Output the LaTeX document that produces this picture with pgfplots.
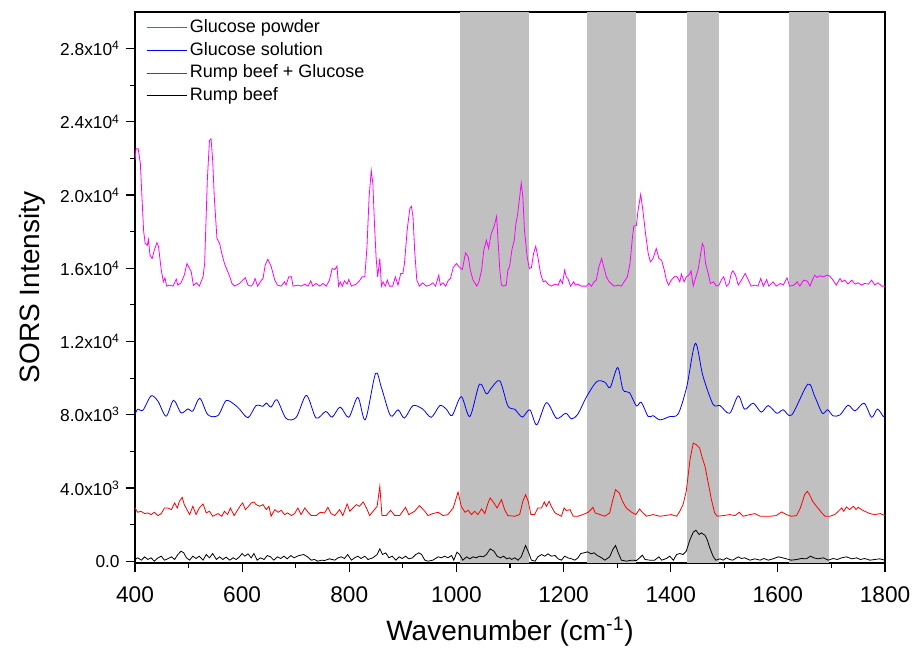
\documentclass[border=0pt]{standalone}
\usepackage{fontspec}
\setmainfont{Liberation Sans}
\usepackage{pgfplots}
\pgfplotsset{compat=1.18}
\definecolor{bandgray}{HTML}{C0C0C0}
\definecolor{mag}{HTML}{FF00FF}
\pgfplotsset{
  legend image code/.code={\draw[#1] (0pt,0pt) -- (30pt,0pt);},
  spec/.style={line width=0.6pt},
}
\begin{document}
\begin{tikzpicture}
\begin{axis}[
  scale only axis,
  width=562.5pt, height=413.25pt,
  xmin=400, xmax=1800, ymin=-100, ymax=30000,
  scaled y ticks=false, scaled x ticks=false,
  xtick={400,600,...,1800},
  minor x tick num=1,
  ytick={0,4000,8000,12000,16000,20000,24000,28000},
  yticklabels={0.0,{4.0x10\textsuperscript{3}},{8.0x10\textsuperscript{3}},{1.2x10\textsuperscript{4}},{1.6x10\textsuperscript{4}},{2.0x10\textsuperscript{4}},{2.4x10\textsuperscript{4}},{2.8x10\textsuperscript{4}}},
  minor y tick num=1,
  tick pos=left,
  tick align=outside,
  major tick length=7pt,
  minor tick length=3.75pt,
  every tick/.style={black, line width=0.9pt},
  axis line style={line width=1.1pt},
  /pgf/number format/assume math mode=true,
  /pgf/number format/1000 sep={},
  xticklabel style={font=\fontsize{17}{20}\selectfont, yshift=-7pt},
  yticklabel style={font=\fontsize{13}{16}\selectfont, xshift=-1pt},
  xlabel={Wavenumber (cm\textsuperscript{-1})},
  ylabel={SORS Intensity},
  xlabel style={font=\fontsize{21}{25}\selectfont, at={(axis description cs:0.5,-0.125)}, anchor=center},
  ylabel style={font=\fontsize{21}{25}\selectfont, at={(axis description cs:-0.137,0.5)}, anchor=center},
  legend style={at={(axis description cs:0.013,0.995)}, anchor=north west, draw=none, fill=none,
    font=\fontsize{13.5}{16.9}\selectfont, row sep=0pt, inner sep=1pt,
    nodes={text height=10pt, text depth=3pt}},
  legend cell align=left,
  clip=true,
]
% shaded bands
\addplot[draw=none, fill=bandgray, forget plot] coordinates {(1007,-100) (1135,-100) (1135,30000) (1007,30000)};
\addplot[draw=none, fill=bandgray, forget plot] coordinates {(1243,-100) (1336,-100) (1336,30000) (1243,30000)};
\addplot[draw=none, fill=bandgray, forget plot] coordinates {(1430,-100) (1491,-100) (1491,30000) (1430,30000)};
\addplot[draw=none, fill=bandgray, forget plot] coordinates {(1621,-100) (1695,-100) (1695,30000) (1621,30000)};

% Glucose powder
\addplot[mag, spec] table {
x y
400 21890
402 22529
406 22529
410 21711
413 19894
416 18077
419 17350
423 17259
425 17568
428 16714
432 16533
436 16987
441 17405
444 17169
449 15897
453 15261
456 15479
459 15024
464 15079
471 15024
477 15406
480 15079
486 15206
492 15624
497 16260
502 15987
505 15806
509 15061
515 15206
520 15024
527 15533
530 16260
535 20803
539 22983
542 23074
545 21893
548 19894
553 17623
558 17350
562 16805
567 16260
572 15897
577 15533
581 15170
586 15024
595 15170
601 15352
606 15479
611 15079
617 15024
621 15170
624 15442
629 15024
636 15352
639 15442
643 16169
648 16496
654 16115
661 15352
666 15079
673 15024
679 15261
682 15079
687 15533
692 15533
695 15024
704 15079
710 15024
717 15134
723 15024
728 15315
732 15024
738 15170
745 15024
751 15170
757 15024
763 15352
768 15987
773 15933
777 16115
780 15024
783 15261
787 15024
791 15315
796 15134
799 15388
804 15024
813 15134
819 15315
824 15533
829 15533
833 17169
837 19894
841 21348
844 20621
847 18441
850 16623
853 15533
857 16533
860 15024
863 15261
867 15024
871 15352
875 15024
881 15024
886 15533
891 15079
896 15715
900 15715
903 16260
908 18077
913 19258
916 19385
919 18804
922 16987
926 15352
931 15024
937 15206
944 15024
950 15079
956 15206
961 15024
967 15624
970 15079
975 15206
980 15024
985 15352
989 15442
994 16042
1000 16260
1005 16078
1011 15933
1017 16841
1022 16623
1026 15897
1031 15352
1035 15170
1038 15024
1042 15261
1047 15897
1051 16987
1056 17532
1060 17078
1065 17895
1070 18259
1075 18840
1078 17350
1081 15897
1084 15079
1088 15024
1093 15079
1096 15897
1099 16078
1104 17078
1108 17532
1111 18441
1114 18895
1118 19894
1121 20657
1124 19894
1127 18077
1132 16623
1136 15987
1140 16042
1144 16805
1148 17205
1152 16623
1157 15715
1162 15261
1166 15315
1171 15134
1177 15024
1184 15134
1190 15079
1194 15388
1198 15170
1202 15897
1205 15533
1208 15442
1213 15024
1219 15261
1222 15079
1227 15134
1233 15024
1243 15024
1247 15170
1252 15024
1257 15261
1261 15352
1266 16078
1271 16533
1275 16078
1280 15533
1285 15261
1289 15170
1294 15024
1302 15079
1308 15024
1313 15261
1319 15533
1324 16260
1328 17532
1331 18295
1336 18350
1339 19167
1344 20039
1348 19167
1353 17895
1358 16805
1362 16351
1367 16533
1373 17078
1378 16533
1383 16442
1388 15897
1392 15352
1396 15079
1401 15352
1408 15570
1412 15533
1417 15261
1420 15679
1425 15261
1429 15533
1434 15624
1438 15860
1442 15025
1447 15534
1451 15898
1455 16624
1459 17351
1462 17170
1465 16261
1470 15716
1474 15171
1480 15262
1485 15025
1490 15080
1495 15389
1499 15534
1504 15025
1509 15171
1513 15716
1516 15861
1521 15625
1526 15080
1532 15353
1539 15716
1545 15353
1550 15025
1557 15080
1563 15025
1568 15443
1573 15025
1579 15389
1583 15025
1591 15262
1597 15025
1605 15171
1610 15080
1617 15480
1622 15025
1630 15080
1636 15262
1641 15025
1648 15353
1655 15298
1660 15025
1665 15389
1669 15625
1673 15498
1678 15589
1685 15534
1692 15625
1697 15571
1703 15353
1709 15080
1716 15443
1720 15262
1725 15353
1731 15134
1738 15353
1744 15134
1750 15207
1756 15080
1762 15171
1769 15134
1775 15353
1781 15080
1787 15207
1794 15025
1800 15025
};
\addlegendentry{Glucose powder}

% Glucose solution
\addplot[blue, spec, smooth, tension=0.5] table {
x y
400 8000
405 8300
415 8250
430 9030
443 8730
458 7920
472 8790
486 8100
499 8320
508 8200
521 8900
536 8000
555 7960
570 8770
586 8550
595 8310
611 7840
626 8500
639 8460
645 8640
654 8420
665 8820
682 7800
701 7860
720 9060
738 7820
756 8180
768 7870
783 8420
799 7860
816 8950
830 7730
849 10250
860 9480
877 7940
891 8270
903 7820
919 8500
937 8310
953 7860
969 8500
981 8310
992 7960
1009 8990
1025 7900
1043 9670
1056 9140
1065 9450
1081 9850
1096 8480
1109 8300
1123 7870
1137 8270
1150 7450
1168 8660
1187 7800
1204 8080
1215 7770
1227 8050
1243 8990
1262 9810
1277 9780
1287 9490
1301 10580
1311 9360
1323 9210
1336 8480
1345 8680
1358 7900
1367 7950
1380 7720
1398 7900
1414 8050
1430 9540
1446 11900
1460 10130
1479 8570
1492 8500
1510 8080
1526 9030
1538 8300
1554 8630
1569 8140
1582 8500
1598 8080
1610 8270
1626 7990
1656 9670
1669 8990
1683 8080
1693 8270
1703 7940
1716 7990
1731 8520
1744 8210
1761 8630
1775 7860
1786 8310
1797 7900
1800 8000
};
\addlegendentry{Glucose solution}

% Rump beef + Glucose
\addplot[red, spec] table {
x y
400 2908
405 2672
411 2727
418 2599
424 2636
430 2545
436 2672
443 2490
449 2599
455 2908
461 2908
468 2817
474 3181
479 2908
483 3272
488 3490
492 3090
497 2817
502 2545
508 2999
514 2545
520 2908
527 3126
533 2636
539 2727
545 2454
555 2599
562 2454
567 2727
573 2545
578 2908
585 2490
592 2817
598 3090
601 3181
606 2817
612 2999
617 3181
622 3235
626 3090
633 2999
639 3090
645 2817
650 2999
654 2454
661 2817
667 2672
673 2781
679 2545
685 2636
692 2490
698 2599
704 2908
710 2545
717 2908
723 2672
729 2490
738 2490
746 2672
754 2636
760 2945
766 2599
773 2490
782 2817
788 2490
796 3126
801 2727
807 2908
813 3090
819 2999
826 3235
832 2908
838 2490
847 2817
852 2999
857 4089
861 2490
869 2490
877 2781
885 2490
894 2490
905 2945
911 2545
922 2727
931 3035
941 2727
947 2490
956 2599
966 2672
975 2490
984 2545
994 2908
1003 3780
1009 2999
1016 2672
1022 2781
1028 2545
1034 2727
1040 2545
1047 2854
1053 2599
1059 3181
1063 3453
1070 3181
1076 2908
1084 3362
1090 2817
1096 2490
1109 2454
1118 2545
1124 3272
1129 3635
1134 3272
1139 2545
1146 2545
1152 2908
1159 2908
1164 3235
1168 2999
1173 3272
1177 2999
1184 2636
1190 2545
1196 2454
1201 2908
1205 2763
1212 2817
1218 2454
1227 2454
1236 2545
1246 2672
1251 2817
1255 2945
1259 2636
1268 2545
1277 2454
1286 2636
1292 3362
1297 3908
1304 3726
1310 3272
1317 2908
1327 2672
1335 2545
1342 2854
1347 2672
1355 2454
1367 2545
1380 2454
1389 2490
1401 2545
1411 2454
1417 2727
1423 3090
1429 3817
1436 5543
1442 6451
1448 6360
1454 6179
1459 5634
1464 5180
1470 4271
1476 3362
1482 2636
1487 2454
1498 2490
1510 2545
1520 2490
1528 2672
1535 2454
1548 2545
1557 2599
1567 2454
1585 2454
1597 2490
1607 2690
1616 2545
1625 2454
1635 2490
1642 2908
1650 3635
1655 3817
1659 3635
1665 3272
1672 2999
1682 2636
1688 2454
1697 2454
1706 2545
1713 2727
1719 2908
1723 2727
1728 2963
1734 2817
1741 2999
1746 2817
1750 2945
1756 2817
1762 2727
1772 2599
1781 2545
1791 2599
1800 2490
};
\addlegendentry{Rump beef + Glucose}

% Rump beef
\addplot[black, spec] table {
x y
400 92
405 183
412 55
418 237
424 92
430 183
436 0
443 183
449 273
455 55
461 128
468 237
474 92
480 364
486 546
491 455
496 183
502 55
508 273
514 146
520 273
527 55
533 364
539 183
545 419
552 92
558 237
564 92
570 219
577 55
583 183
589 92
595 237
600 419
605 273
611 401
617 183
622 419
628 55
634 183
641 92
647 310
653 237
659 55
666 237
672 146
678 273
684 128
691 310
697 183
703 273
709 328
715 364
722 237
729 55
735 92
741 0
748 55
754 37
763 128
773 55
779 183
785 237
791 146
797 364
804 55
810 183
816 273
822 146
829 273
835 92
844 183
852 364
857 673
862 364
868 455
874 183
880 273
887 55
893 237
899 146
905 273
911 128
918 183
924 364
930 455
935 364
941 55
947 0
956 55
966 237
972 183
978 273
984 183
991 310
995 55
1001 492
1006 364
1012 55
1019 237
1025 128
1031 237
1037 183
1043 273
1050 237
1056 364
1063 673
1070 546
1076 273
1082 183
1088 273
1094 128
1099 183
1103 92
1109 183
1115 55
1121 237
1129 855
1135 455
1140 55
1147 0
1152 237
1159 364
1165 273
1171 401
1177 273
1184 310
1190 128
1196 55
1202 273
1208 183
1215 128
1221 55
1227 183
1232 419
1238 455
1245 510
1251 401
1257 455
1263 310
1271 183
1277 55
1286 237
1292 637
1297 855
1302 455
1308 55
1317 0
1327 55
1336 37
1342 183
1347 328
1352 92
1361 55
1370 55
1378 237
1383 55
1392 146
1398 273
1405 55
1411 364
1417 419
1423 364
1429 546
1436 1182
1442 1582
1447 1691
1453 1455
1457 1545
1464 1418
1468 1182
1473 728
1479 273
1484 55
1492 128
1498 55
1504 183
1510 92
1516 55
1526 237
1532 146
1538 183
1548 55
1557 128
1567 55
1574 146
1582 55
1591 128
1601 237
1609 183
1616 128
1625 55
1635 92
1644 146
1653 128
1661 273
1667 183
1675 128
1685 183
1694 55
1703 146
1711 92
1719 183
1728 237
1738 128
1747 183
1754 92
1762 146
1772 55
1781 92
1790 128
1800 55
};
\addlegendentry{Rump beef}
\end{axis}
\pgfresetboundingbox
\path (current axis.south west) ++(-101.25pt,-68.25pt) coordinate (bbA);
\path (current axis.north east) ++(21pt,9pt) coordinate (bbB);
\useasboundingbox (bbA) rectangle (bbB);
\end{tikzpicture}
\end{document}
